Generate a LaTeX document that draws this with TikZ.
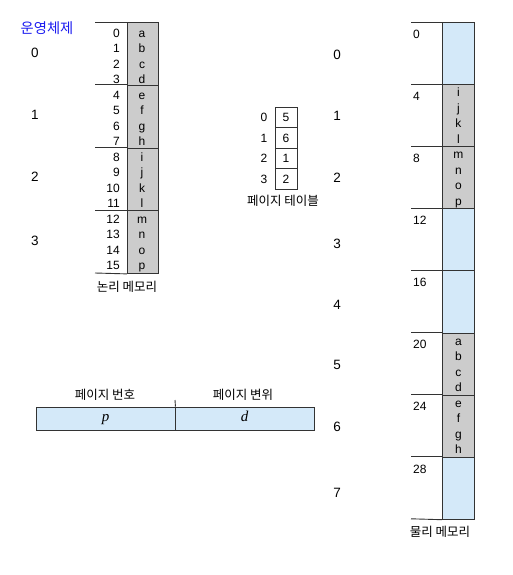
\documentclass[tikz,border=0pt]{standalone}
\usepackage{fontspec}
\usetikzlibrary{calc}
\setmainfont{Liberation Sans}
\newfontfamily\krfont{Noto Sans CJK KR}
\newfontfamily\tmsfont{Liberation Serif}
\definecolor{lblue}{HTML}{D4E9F9}
\definecolor{cgray}{HTML}{CCCCCC}
\definecolor{lncol}{HTML}{333333}
\definecolor{ttlblue}{HTML}{1A1AF0}
\begin{document}
\begin{tikzpicture}[x=1pt,y=-1pt,
  txt/.style={inner sep=0pt, text height=8.6pt, text depth=0pt, font=\fontsize{12}{12}\selectfont},
  bigtxt/.style={inner sep=0pt, text height=9.7pt, text depth=0pt, font=\fontsize{13.5}{13.5}\selectfont},
  krt/.style={inner sep=0pt, font=\krfont\fontsize{12.5}{12.5}\selectfont},
  grid/.style={draw=lncol, line width=0.9pt},
  gcell/.style={grid, fill=cgray, inner sep=0pt, anchor=north west},
  bcell/.style={grid, fill=lblue, inner sep=0pt, anchor=north west},
  ptcell/.style={grid, inner sep=0pt, minimum width=22pt, minimum height=20.6pt, text height=8.6pt, text depth=0pt, font=\fontsize{12}{12}\selectfont},
  addr/.style={grid, fill=lblue, inner sep=0pt, minimum width=139pt, minimum height=23pt, text height=6pt, text depth=0pt, font=\tmsfont\itshape\fontsize{15}{15}\selectfont}
]
\useasboundingbox (0,0) rectangle (513,575);

% title
\node[inner sep=0pt, text=ttlblue, font=\krfont\fontsize{14.3}{14.3}\selectfont] (title) at (47,28) {운영체제};

% logical page numbers
\foreach \i/\yy in {0/53,1/115,2/177,3/241}
  \node[bigtxt] (lpn\i) at (35,\yy) {\i};

% logical memory
\foreach \i in {0,...,3}
  \node[gcell, minimum width=31pt, minimum height=62.75pt] (lp\i) at (127,{22+62.75*\i}) {};
\foreach \i in {0,...,3}
  \draw[grid] (95,{22+62.75*\i}) -- (lp\i.north west);
\coordinate (lbl) at (95,273);
\draw[grid] (lbl) -- (lp3.south west);
\foreach \l [count=\k from 0] in {a,b,c,d,e,f,g,h,i,j,k,l,m,n,o,p}{
  \node[txt] (la\k) at (142,{33+15.5*\k}) {\l};
  \node[txt, anchor=east] (lno\k) at (120,{33+15.5*\k}) {\k};
}
\node[krt] (lmlabel) at (127,287) {논리 메모리};

% page table
\foreach \i/\v in {0/5,1/6,2/1,3/2}{
  \node[ptcell] (pt\i) at (286,{117.3+20.6*\i}) {\v};
  \node[txt] (pti\i) at (264,{117.3+20.6*\i}) {\i};
}
\node[krt] (ptlabel) at (283,201) {페이지 테이블};

% frame numbers
\foreach \i/\yy in {0/55,1/116,2/178,3/244,4/305,5/365,6/427,7/493}
  \node[bigtxt] (fn\i) at (337,\yy) {\i};

% physical memory
\foreach \i/\c in {0/bcell,1/gcell,2/gcell,3/bcell,4/bcell,5/gcell,6/gcell,7/bcell}
  \node[\c, minimum width=32pt, minimum height=62.1pt] (pf\i) at (442,{22+62.1*\i}) {};
\foreach \i in {0,...,7}{
  \draw[grid] (411,{22+62.1*\i}) -- (pf\i.north west);
  \pgfmathtruncatemacro{\addrv}{4*\i}
  \node[txt, anchor=west] (pfa\i) at (413,{34+62.1*\i}) {\addrv};
}
\coordinate (pbl) at (411,518.8);
\draw[grid] (pbl) -- (pf7.south west);
\foreach \fr/\lets in {1/{i,j,k,l},2/{m,n,o,p},5/{a,b,c,d},6/{e,f,g,h}}{
  \foreach \l [count=\k from 0] in \lets
    \node[txt] (pl\fr\k) at ($(pf\fr.center)+(0,{-23.25+15.5*\k})$) {\l};
}
\node[krt] (pmlabel) at (440,532) {물리 메모리};

% address
\node[addr] (pbox) at (105.5,418.5) {p};
\node[addr] (dbox) at (244.5,418.5) {d};
\coordinate (divtop) at (175,400);
\draw[grid] (divtop) -- (pbox.north east);
\node[krt] (pnlabel) at (105,395) {페이지 번호};
\node[krt] (pdlabel) at (243,395) {페이지 변위};
\end{tikzpicture}
\end{document}
